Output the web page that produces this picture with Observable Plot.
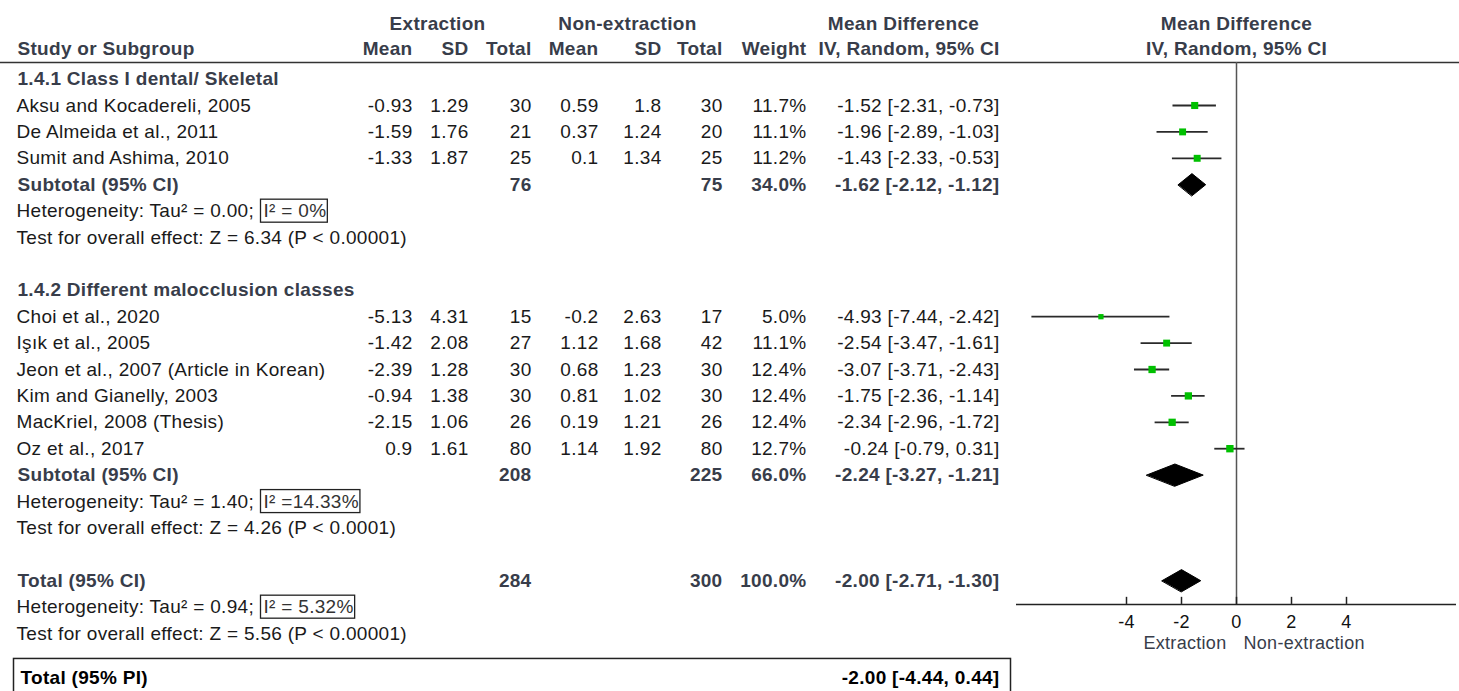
<!DOCTYPE html>
<html>
<head>
<meta charset="utf-8">
<script src="https://cdn.jsdelivr.net/npm/d3@7"></script>
<script src="https://cdn.jsdelivr.net/npm/@observablehq/plot@0.6"></script>
<style>
  html, body { margin: 0; padding: 0; background: #fff; }
  #chart { width: 1459px; height: 691px; overflow: hidden; position: relative; }
</style>
</head>
<body>
<div id="chart"></div>
<script>
// ---------- data ----------
const groupLabels = ["1.4.1 Class I dental/ Skeletal", "1.4.2 Different malocclusion classes"];
const studyNames = [
  "Aksu and Kocadereli, 2005", "De Almeida et al., 2011", "Sumit and Ashima, 2010",
  "Choi et al., 2020", "Işık et al., 2005", "Jeon et al., 2007 (Article in Korean)",
  "Kim and Gianelly, 2003", "MacKriel, 2008 (Thesis)", "Oz et al., 2017"
];
const studyGroup = [0, 0, 0, 1, 1, 1, 1, 1, 1];
const extMean = [-0.93, -1.59, -1.33, -5.13, -1.42, -2.39, -0.94, -2.15, 0.9];
const extSD   = [1.29, 1.76, 1.87, 4.31, 2.08, 1.28, 1.38, 1.06, 1.61];
const extN    = [30, 21, 25, 15, 27, 30, 30, 26, 80];
const nonMean = [0.59, 0.37, 0.1, -0.2, 1.12, 0.68, 0.81, 0.19, 1.14];
const nonSD   = [1.8, 1.24, 1.34, 2.63, 1.68, 1.23, 1.02, 1.21, 1.92];
const nonN    = [30, 20, 25, 17, 42, 30, 30, 26, 80];
const weights = [11.7, 11.1, 11.2, 5.0, 11.1, 12.4, 12.4, 12.4, 12.7];
const mdEst   = [-1.52, -1.96, -1.43, -4.93, -2.54, -3.07, -1.75, -2.34, -0.24];
const mdLow   = [-2.31, -2.89, -2.33, -7.44, -3.47, -3.71, -2.36, -2.96, -0.79];
const mdHigh  = [-0.73, -1.03, -0.53, -2.42, -1.61, -2.43, -1.14, -1.72, 0.31];

const subExtN  = [76, 208];
const subNonN  = [75, 225];
const subW     = [34.0, 66.0];
const subMD    = [-1.62, -2.24];
const subLow   = [-2.12, -3.27];
const subHigh  = [-1.12, -1.21];
const subTau2  = ["0.00", "1.40"];
const subI2    = ["I² = 0%", "I² =14.33%"];
const subZ     = ["6.34", "4.26"];
const subP     = ["< 0.00001", "< 0.0001"];

const totExtN = 284, totNonN = 300, totW = 100.0;
const totMD = -2.00, totLow = -2.71, totHigh = -1.30;
const totTau2 = "0.94", totI2 = "I² = 5.32%", totZ = "5.56", totP = "< 0.00001";
const piMD = -2.00, piLow = -4.44, piHigh = 0.44;

const axisTicks = [-4, -2, 0, 2, 4];
const axisDomain = [-8, 8];
const favoursLeft = "Extraction", favoursRight = "Non-extraction";

// ---------- layout (row indices) ----------
const fmt2 = v => v.toFixed(2);
const ciText = (m, l, h) => `${fmt2(m)} [${fmt2(l)}, ${fmt2(h)}]`;
const pct = v => v.toFixed(1) + "%";

const groupRows = [], studyRows = [], sumRows = [], hetRows = [], testRows = [];
let r = 0;
groupLabels.forEach((g, gi) => {
  groupRows.push({row: r++, label: g});
  studyNames.forEach((s, i) => {
    if (studyGroup[i] !== gi) return;
    studyRows.push({row: r++, name: s, me: extMean[i], sde: extSD[i], ne: extN[i],
      mc: nonMean[i], sdc: nonSD[i], nc: nonN[i], w: weights[i],
      md: mdEst[i], lo: mdLow[i], hi: mdHigh[i]});
  });
  sumRows.push({row: r++, label: "Subtotal (95% CI)", ne: subExtN[gi], nc: subNonN[gi], w: subW[gi],
    md: subMD[gi], lo: subLow[gi], hi: subHigh[gi]});
  hetRows.push({row: r++, tau: subTau2[gi], i2: subI2[gi]});
  testRows.push({row: r++, z: subZ[gi], p: subP[gi]});
  r++;
});
sumRows.push({row: r++, label: "Total (95% CI)", ne: totExtN, nc: totNonN, w: totW, md: totMD, lo: totLow, hi: totHigh});
hetRows.push({row: r++, tau: totTau2, i2: totI2});
testRows.push({row: r++, z: totZ, p: totP});
const piRow = r + 0.7;
const piRows = [{row: piRow, label: "Total (95% PI)", ci: ciText(piMD, piLow, piHigh)}];

const hdrTop = -2.1, hdrSub = -1.13, hdrLine = -0.63;
const axisRow = 19.9;
const dh = 0.42;

const diamonds = sumRows.flatMap((s, k) => [
  {id: k, x: s.lo, y: s.row}, {id: k, x: s.md, y: s.row - dh},
  {id: k, x: s.hi, y: s.row}, {id: k, x: s.md, y: s.row + dh}
]);

// column anchors (pixels from left)
const C = {name: 16, meanE: 412, sdE: 468, nE: 531, meanC: 598, sdC: 661, nC: 722, w: 806, ci: 999,
           extC: 437, nonC: 627, mdC: 903, boxed: 263, pi: 20};

const TXT = "#1a1a1a", HEAD = "#383d4a";
const col = (data, dx, text, opts = {}) => Plot.text(data, {y: "row", text, frameAnchor: "left", dx,
  textAnchor: "end", fill: TXT, ...opts});

const topHeaders = [
  {t: "Extraction", x: C.extC}, {t: "Non-extraction", x: C.nonC}, {t: "Mean Difference", x: C.mdC}
];
const subHeaders = [
  {t: "Mean", x: C.meanE}, {t: "SD", x: C.sdE}, {t: "Total", x: C.nE},
  {t: "Mean", x: C.meanC}, {t: "SD", x: C.sdC}, {t: "Total", x: C.nC},
  {t: "Weight", x: C.w}, {t: "IV, Random, 95% CI", x: C.ci}
];

const marks = [
  // structure lines
  Plot.ruleY([hdrLine], {stroke: "#333", strokeWidth: 1.5}),
  Plot.ruleX([0], {y1: hdrLine, y2: axisRow, stroke: "#555", strokeWidth: 1.5}),
  Plot.ruleY([axisRow], {x1: axisDomain[0], x2: axisDomain[1], stroke: "#222", strokeWidth: 1.5}),
  Plot.ruleX(axisTicks, {x: d => d, y1: axisRow, y2: axisRow - 0.27, stroke: "#222", strokeWidth: 1.5}),
  Plot.text(axisTicks, {x: d => d, y: axisRow + 0.67, text: d => String(d), fill: "#111", fontSize: 18}),
  Plot.text([favoursLeft], {x: 0, y: axisRow + 1.48, text: d => d, textAnchor: "end", dx: -10, fill: HEAD, fontSize: 18}),
  Plot.text([favoursRight], {x: 0, y: axisRow + 1.48, text: d => d, textAnchor: "start", dx: 7, fill: HEAD, fontSize: 18}),

  // forest marks
  Plot.ruleY(studyRows, {y: "row", x1: "lo", x2: "hi", stroke: "#2a2a2a", strokeWidth: 1.8}),
  Plot.dot(studyRows, {x: "md", y: "row", r: "w", symbol: "square", fill: "#00c000"}),
  Plot.line(diamonds, {x: "x", y: "y", z: "id", fill: "black", stroke: "black", strokeWidth: 1, curve: "linear-closed"}),

  // right-panel header
  Plot.text(["Mean Difference"], {x: 0, y: hdrTop, text: d => d, fill: HEAD, fontWeight: "bold"}),
  Plot.text(["IV, Random, 95% CI"], {x: 0, y: hdrSub, text: d => d, fill: HEAD, fontWeight: "bold"}),
  Plot.text(["Study or Subgroup"], {y: hdrSub, text: d => d, frameAnchor: "left", dx: C.name + 1, textAnchor: "start", fill: HEAD, fontWeight: "bold"}),
  ...topHeaders.map(h =>
    Plot.text([h], {y: () => hdrTop, text: "t", frameAnchor: "left", dx: h.x, textAnchor: "middle", fill: HEAD, fontWeight: "bold"})),
  ...subHeaders.map(h =>
    Plot.text([h], {y: () => hdrSub, text: "t", frameAnchor: "left", dx: h.x, textAnchor: "end", fill: HEAD, fontWeight: "bold"})),

  // group labels
  Plot.text(groupRows, {y: "row", text: "label", frameAnchor: "left", dx: C.name + 1, textAnchor: "start", fill: HEAD, fontWeight: "bold"}),

  // study rows
  Plot.text(studyRows, {y: "row", text: "name", frameAnchor: "left", dx: C.name, textAnchor: "start", fill: TXT}),
  col(studyRows, C.meanE, d => String(d.me)),
  col(studyRows, C.sdE, d => String(d.sde)),
  col(studyRows, C.nE, d => String(d.ne)),
  col(studyRows, C.meanC, d => String(d.mc)),
  col(studyRows, C.sdC, d => String(d.sdc)),
  col(studyRows, C.nC, d => String(d.nc)),
  col(studyRows, C.w, d => pct(d.w)),
  col(studyRows, C.ci, d => ciText(d.md, d.lo, d.hi)),

  // summary rows
  Plot.text(sumRows, {y: "row", text: "label", frameAnchor: "left", dx: C.name + 1, textAnchor: "start", fill: HEAD, fontWeight: "bold"}),
  col(sumRows, C.nE, d => String(d.ne), {fill: HEAD, fontWeight: "bold"}),
  col(sumRows, C.nC, d => String(d.nc), {fill: HEAD, fontWeight: "bold"}),
  col(sumRows, C.w, d => pct(d.w), {fill: HEAD, fontWeight: "bold"}),
  col(sumRows, C.ci, d => ciText(d.md, d.lo, d.hi), {fill: HEAD, fontWeight: "bold"}),

  // heterogeneity / test rows
  Plot.text(hetRows, {y: "row", text: d => `Heterogeneity: Tau² = ${d.tau};`, frameAnchor: "left", dx: C.name, textAnchor: "start", fill: TXT}),
  Plot.text(hetRows, {y: "row", text: "i2", frameAnchor: "left", dx: C.boxed, textAnchor: "start", fill: "#333", className: "boxed"}),
  Plot.text(testRows, {y: "row", text: d => `Test for overall effect: Z = ${d.z} (P ${d.p})`, frameAnchor: "left", dx: C.name, textAnchor: "start", fill: TXT}),

  // prediction interval row
  Plot.text(piRows, {y: "row", text: "label", frameAnchor: "left", dx: C.pi, textAnchor: "start", fill: "#000", fontWeight: "bold", className: "pilabel"}),
  col(piRows, C.ci, "ci", {fill: "#000", fontWeight: "bold", className: "pici"})
];

const chart = Plot.plot({
  width: 1459,
  height: 691,
  marginTop: 0, marginRight: 0, marginBottom: 0, marginLeft: 0,
  x: {domain: axisDomain, range: [1016, 1456], axis: null},
  y: {domain: [0, 22], range: [78.6, 659.4], axis: null},
  r: {type: "linear", domain: [0, 13], range: [2.2, 4.2]},
  style: {fontFamily: "'Liberation Sans', Arial, sans-serif", fontSize: "19px", letterSpacing: "0.3px", background: "#fff", color: "#111"},
  marks
});
document.getElementById("chart").appendChild(chart);

// boxes around I² texts and the prediction-interval row (measured after layout)
const svg = d3.select(chart);
const origin = chart.getBoundingClientRect();
const box = el => {
  const b = el.getBoundingClientRect();
  return {x: b.left - origin.left, y: b.top - origin.top, w: b.width, h: b.height};
};
const overlay = svg.append("g").attr("fill", "none");
svg.selectAll(".boxed text").each(function () {
  const b = box(this);
  overlay.append("rect")
    .attr("x", b.x - 3).attr("y", b.y - 1).attr("width", b.w + 4).attr("height", b.h + 2)
    .attr("stroke", "#222").attr("stroke-width", 1.3);
});
const lab = box(svg.select(".pilabel text").node());
const ci = box(svg.select(".pici text").node());
overlay.append("rect")
  .attr("x", lab.x - 7).attr("y", lab.y - 9)
  .attr("width", (ci.x + ci.w + 11) - (lab.x - 7)).attr("height", 80)
  .attr("stroke", "#222").attr("stroke-width", 1.5);
</script>
</body>
</html>
